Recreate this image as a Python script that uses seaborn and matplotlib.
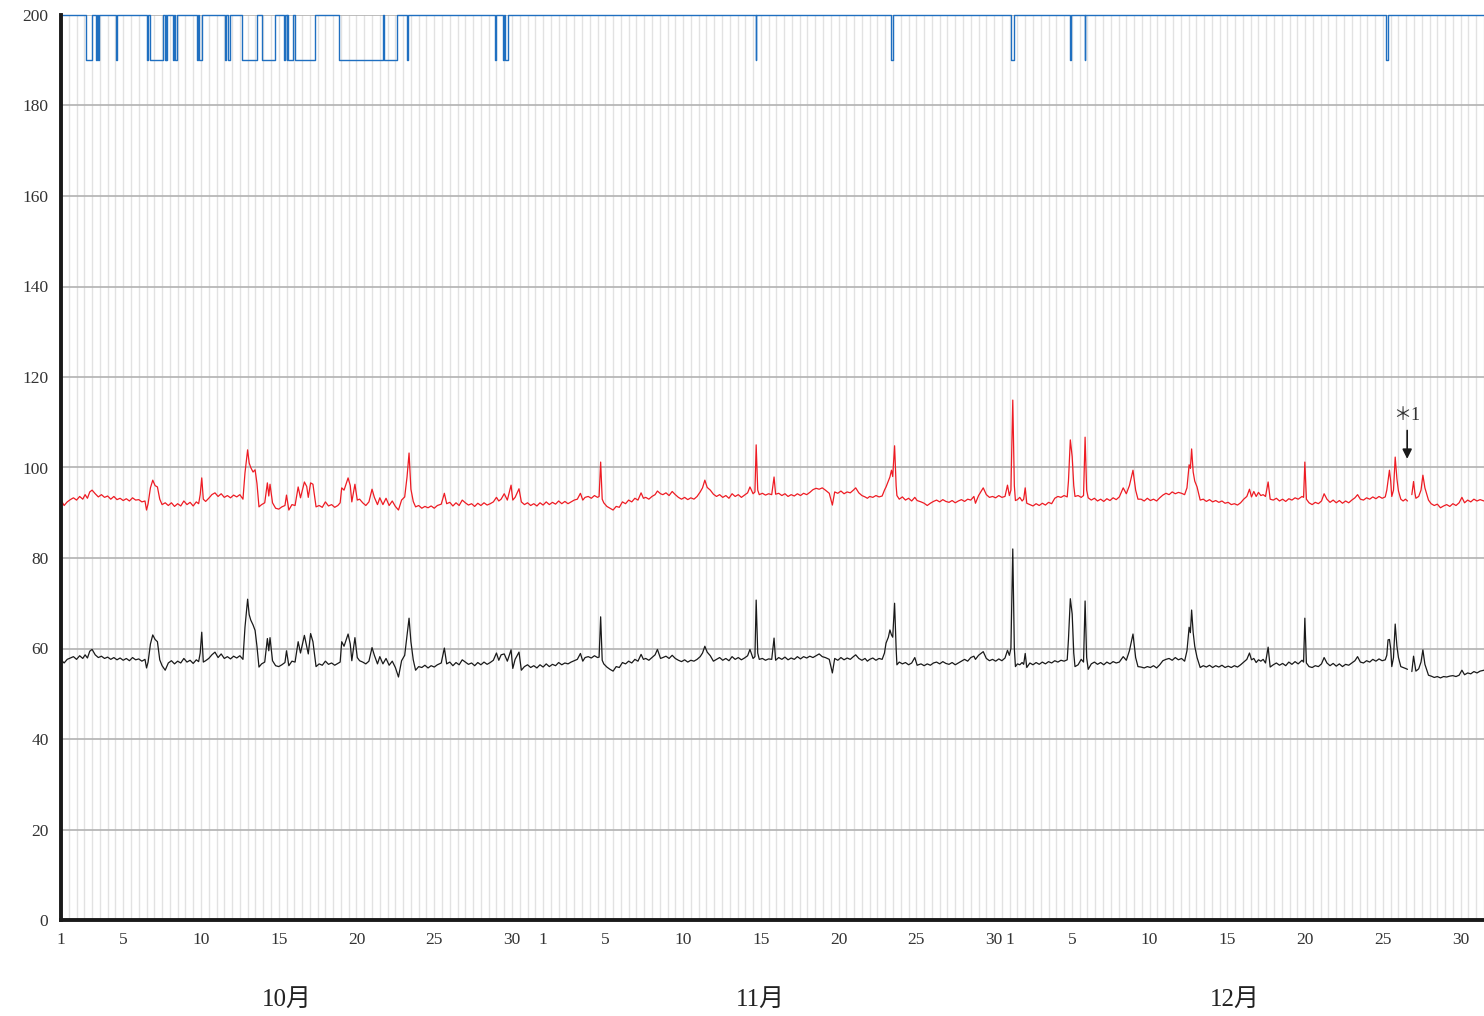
import numpy as np
import pandas as pd
import matplotlib
matplotlib.use('Agg')
import matplotlib.pyplot as plt
import matplotlib.transforms as mtransforms
from matplotlib.ticker import FixedLocator, MultipleLocator
import seaborn as sns

# days counted from 1 Oct (0.0 = Oct 1, 31 = Nov 1, 61 = Dec 1)
obs_days = [
    0.0, 0.2, 0.4, 0.6, 0.8, 1.0, 1.2, 1.4, 1.55, 1.7,
    1.85, 2.0, 2.2, 2.4, 2.6, 2.8, 3.0, 3.2, 3.4, 3.6,
    3.8, 4.0, 4.2, 4.4, 4.6, 4.8, 5.0, 5.2, 5.4, 5.5,
    5.6, 5.75, 5.9, 6.05, 6.2, 6.35, 6.5, 6.7, 6.9, 7.1,
    7.3, 7.5, 7.7, 7.9, 8.1, 8.3, 8.5, 8.7, 8.85, 8.95,
    9.05, 9.15, 9.3, 9.5, 9.7, 9.9, 10.1, 10.3, 10.5, 10.7,
    10.9, 11.1, 11.3, 11.5, 11.7, 11.83, 12.0, 12.1, 12.2, 12.35,
    12.48, 12.6, 12.73, 12.9, 13.1, 13.27, 13.36, 13.44, 13.6, 13.8,
    14.0, 14.2, 14.4, 14.5, 14.65, 14.85, 15.05, 15.25, 15.4, 15.65,
    15.8, 15.9, 16.05, 16.2, 16.4, 16.6, 16.8, 17.0, 17.2, 17.4,
    17.6, 17.8, 17.95, 18.05, 18.2, 18.46, 18.6, 18.7, 18.9, 19.05,
    19.2, 19.4, 19.6, 19.8, 20.0, 20.15, 20.35, 20.5, 20.7, 20.9,
    21.1, 21.3, 21.5, 21.7, 21.9, 22.1, 22.25, 22.38, 22.5, 22.65,
    22.8, 23.0, 23.2, 23.4, 23.6, 23.8, 24.0, 24.2, 24.45, 24.65,
    24.8, 25.0, 25.2, 25.4, 25.6, 25.8, 26.0, 26.2, 26.4, 26.6,
    26.8, 27.0, 27.2, 27.4, 27.6, 27.8, 28.0, 28.15, 28.3, 28.5,
    28.7, 28.94, 29.05, 29.2, 29.45, 29.6, 29.8, 30.0, 30.2, 30.4,
    30.6, 30.8, 31.0, 31.2, 31.4, 31.6, 31.8, 32.0, 32.2, 32.4,
    32.6, 32.8, 33.0, 33.2, 33.4, 33.55, 33.7, 33.9, 34.1, 34.3,
    34.5, 34.6, 34.7, 34.8, 34.9, 35.1, 35.3, 35.5, 35.7, 35.9,
    36.1, 36.3, 36.5, 36.7, 36.9, 37.1, 37.3, 37.45, 37.6, 37.8,
    38.0, 38.2, 38.35, 38.55, 38.7, 38.9, 39.1, 39.3, 39.5, 39.7,
    39.9, 40.1, 40.3, 40.5, 40.7, 40.9, 41.1, 41.25, 41.4, 41.55,
    41.75, 41.95, 42.15, 42.35, 42.55, 42.75, 42.95, 43.15, 43.35, 43.55,
    43.75, 43.95, 44.15, 44.3, 44.5, 44.62, 44.7, 44.8, 44.9, 45.1,
    45.3, 45.5, 45.7, 45.85, 45.95, 46.15, 46.35, 46.55, 46.75, 46.95,
    47.15, 47.35, 47.55, 47.75, 47.95, 48.15, 48.35, 48.55, 48.75, 48.95,
    49.15, 49.4, 49.6, 49.75, 49.95, 50.15, 50.35, 50.55, 50.75, 50.95,
    51.1, 51.3, 51.5, 51.7, 51.85, 52.0, 52.2, 52.4, 52.6, 52.8,
    52.95, 53.05, 53.2, 53.3, 53.4, 53.48, 53.6, 53.7, 53.75, 53.9,
    54.1, 54.3, 54.5, 54.7, 54.9, 55.05, 55.3, 55.5, 55.7, 55.9,
    56.1, 56.3, 56.5, 56.7, 56.9, 57.1, 57.3, 57.5, 57.7, 57.9,
    58.1, 58.3, 58.5, 58.7, 58.8, 59.0, 59.3, 59.5, 59.7, 59.9,
    60.1, 60.3, 60.5, 60.7, 60.86, 60.98, 61.08, 61.2, 61.3, 61.37,
    61.5, 61.65, 61.8, 61.9, 62.0, 62.1, 62.3, 62.5, 62.7, 62.9,
    63.1, 63.3, 63.5, 63.7, 63.9, 64.1, 64.3, 64.5, 64.7, 64.78,
    64.9, 65.02, 65.12, 65.2, 65.4, 65.6, 65.75, 65.85, 65.95, 66.05,
    66.25, 66.45, 66.65, 66.85, 67.05, 67.25, 67.45, 67.65, 67.85, 68.05,
    68.3, 68.5, 68.7, 68.93, 69.1, 69.25, 69.45, 69.65, 69.85, 70.05,
    70.25, 70.45, 70.65, 70.85, 71.05, 71.25, 71.45, 71.65, 71.85, 72.05,
    72.25, 72.4, 72.54, 72.62, 72.7, 72.8, 72.9, 73.05, 73.25, 73.45,
    73.65, 73.85, 74.05, 74.25, 74.45, 74.65, 74.85, 75.05, 75.25, 75.45,
    75.65, 75.85, 76.05, 76.25, 76.42, 76.55, 76.7, 76.85, 77.0, 77.15,
    77.3, 77.45, 77.62, 77.75, 77.95, 78.15, 78.35, 78.55, 78.75, 78.95,
    79.15, 79.35, 79.55, 79.8, 79.9, 79.98, 80.08, 80.25, 80.45, 80.65,
    80.85, 81.05, 81.22, 81.4, 81.6, 81.8, 82.0, 82.2, 82.4, 82.6,
    82.8, 83.0, 83.2, 83.37, 83.55, 83.75, 83.95, 84.15, 84.35, 84.55,
    84.75, 84.95, 85.15, 85.25, 85.33, 85.42, 85.5, 85.57, 85.68, 85.79,
    85.9, 86.0, 86.15, 86.3, 86.45, 86.58, 86.72, 86.86, 86.97, 87.05,
    87.12, 87.3, 87.45, 87.57, 87.7, 87.93, 88.1, 88.3, 88.5, 88.7,
    88.9, 89.1, 89.3, 89.5, 89.7, 89.9, 90.08, 90.25, 90.45, 90.65,
    90.85, 91.05, 91.25, 91.5,
]

nan = np.nan
red_vals = [
    92.8, 91.6, 92.4, 92.9, 93.3, 92.8, 93.6, 93.0, 94.0, 93.2,
    94.6, 95.0, 94.2, 93.5, 94.0, 93.4, 93.7, 93.0, 93.6, 92.9,
    93.2, 92.7, 93.1, 92.6, 93.3, 92.8, 92.9, 92.4, 92.6, 90.6,
    92.0, 95.5, 97.2, 96.0, 95.7, 93.0, 91.8, 92.2, 91.6, 92.2,
    91.4, 92.0, 91.5, 92.6, 91.8, 92.3, 91.5, 92.4, 92.0, 94.0,
    97.7, 93.0, 92.5, 93.2, 94.0, 94.4, 93.6, 94.2, 93.4, 93.8,
    93.3, 93.9, 93.5, 94.0, 93.0, 98.8, 103.9, 101.0, 100.0, 99.0,
    99.5, 96.5, 91.3, 91.8, 92.2, 96.6, 93.7, 96.3, 92.2, 91.0,
    90.8, 91.3, 91.6, 93.9, 90.6, 91.8, 91.6, 95.7, 93.3, 96.8,
    95.8, 93.4, 96.6, 96.3, 91.3, 91.6, 91.2, 92.4, 91.5, 91.8,
    91.2, 91.6, 92.2, 95.5, 95.0, 97.7, 96.0, 92.4, 96.3, 92.8,
    93.0, 92.2, 91.6, 92.4, 95.2, 93.4, 91.8, 93.3, 91.8, 93.2,
    91.6, 92.6, 91.4, 90.6, 92.8, 93.5, 97.9, 103.2, 95.2, 92.5,
    91.3, 91.6, 91.0, 91.4, 91.1, 91.5, 91.0, 91.6, 91.9, 94.3,
    92.0, 92.3, 91.5, 92.2, 91.6, 92.8, 92.2, 91.7, 92.0, 91.4,
    92.1, 91.6, 92.2, 91.7, 92.0, 92.4, 93.4, 92.6, 93.0, 94.2,
    92.8, 96.1, 92.8, 93.4, 95.3, 92.4, 91.8, 92.2, 91.6, 92.0,
    91.5, 92.2, 91.7, 92.4, 91.8, 92.3, 91.9, 92.6, 92.0, 92.5,
    92.0, 92.4, 92.8, 93.0, 94.3, 92.8, 93.4, 93.6, 93.2, 93.8,
    93.4, 93.6, 101.2, 93.0, 92.2, 91.4, 91.0, 90.6, 91.4, 91.2,
    92.4, 92.0, 92.8, 92.4, 93.2, 92.8, 94.4, 93.2, 93.4, 93.0,
    93.6, 94.0, 94.8, 94.2, 94.0, 94.4, 93.8, 94.7, 94.0, 93.4,
    93.0, 93.4, 92.9, 93.3, 93.0, 93.6, 94.6, 95.5, 97.2, 95.6,
    95.0, 94.1, 93.6, 94.0, 93.4, 93.8, 93.2, 94.2, 93.6, 94.0,
    93.4, 93.9, 94.4, 95.7, 94.2, 94.6, 105.0, 95.0, 94.0, 94.3,
    93.9, 94.2, 94.0, 97.9, 94.1, 94.3, 93.8, 94.2, 93.6, 94.0,
    93.7, 94.2, 93.8, 94.3, 94.0, 94.5, 95.1, 95.4, 95.2, 95.5,
    95.0, 94.3, 91.7, 94.6, 94.3, 94.8, 94.2, 94.6, 94.4, 95.0,
    95.5, 94.4, 93.8, 93.5, 93.2, 93.6, 93.4, 93.8, 93.5, 93.7,
    95.0, 95.7, 97.0, 97.9, 99.4, 98.0, 104.8, 96.0, 93.8, 93.0,
    93.5, 92.8, 93.2, 92.6, 93.4, 92.7, 92.4, 92.1, 91.6, 92.1,
    92.5, 92.8, 92.4, 92.9, 92.5, 92.3, 92.7, 92.2, 92.6, 92.9,
    92.5, 93.0, 92.8, 93.6, 92.1, 93.8, 95.5, 94.0, 93.4, 93.6,
    93.3, 93.8, 93.4, 93.6, 96.1, 93.8, 95.0, 114.9, 96.0, 92.7,
    92.9, 93.4, 92.6, 93.0, 95.5, 92.1, 91.8, 91.5, 92.0, 91.6,
    92.1, 91.7, 92.3, 92.0, 93.2, 93.6, 93.4, 93.8, 93.5, 97.0,
    106.1, 102.4, 96.0, 93.6, 93.8, 93.4, 93.8, 106.7, 95.0, 93.3,
    92.8, 93.2, 92.6, 93.0, 92.5, 93.1, 92.7, 93.3, 92.9, 93.5,
    95.5, 94.2, 96.0, 99.4, 95.0, 93.0, 93.0, 92.6, 93.2, 92.7,
    93.0, 92.6, 93.3, 93.9, 94.3, 94.0, 94.6, 94.2, 94.5, 94.3,
    94.0, 95.5, 100.6, 99.8, 104.1, 99.0, 97.0, 95.7, 92.8, 93.0,
    92.5, 92.9, 92.4, 92.7, 92.3, 92.6, 92.1, 92.3, 91.8, 92.0,
    91.7, 92.2, 93.0, 93.6, 95.2, 93.5, 94.7, 93.6, 94.5, 93.8,
    94.0, 93.6, 96.8, 93.0, 92.8, 93.2, 92.6, 93.0, 92.5, 93.1,
    92.8, 93.3, 93.0, 93.6, 93.4, 101.2, 93.0, 92.2, 91.8, 92.3,
    92.0, 92.6, 94.2, 93.0, 92.3, 92.8, 92.2, 92.7, 92.1, 92.6,
    92.2, 92.8, 93.3, 94.0, 93.0, 92.8, 93.3, 93.0, 93.5, 93.1,
    93.6, 93.2, 93.5, 95.0, 97.1, 99.4, 97.0, 93.6, 95.0, 102.3,
    97.5, 94.8, 93.0, 92.6, 93.0, 92.6, nan, 94.0, 96.9, 94.5,
    93.2, 93.6, 95.0, 98.3, 95.5, 92.8, 92.0, 91.6, 91.9, 91.1,
    91.5, 91.8, 91.4, 92.0, 91.6, 92.2, 93.4, 92.2, 92.8, 92.4,
    93.0, 92.6, 92.9, 92.6,
]

black_vals = [
    57.5, 56.8, 57.6, 57.9, 58.2, 57.6, 58.4, 57.8, 58.6, 57.9,
    59.4, 59.8, 58.6, 58.0, 58.3, 57.8, 58.1, 57.6, 58.0, 57.5,
    57.9, 57.4, 57.8, 57.3, 58.0, 57.5, 57.7, 57.2, 57.6, 55.7,
    57.0, 61.0, 63.0, 62.0, 61.5, 57.5, 56.2, 55.2, 56.8, 57.3,
    56.6, 57.2, 56.8, 57.8, 57.0, 57.4, 56.7, 57.5, 57.1, 59.0,
    63.6, 57.0, 57.3, 57.8, 58.6, 59.2, 58.0, 58.8, 57.8, 58.2,
    57.7, 58.3, 57.9, 58.4, 57.6, 64.7, 70.9, 67.5, 66.3, 65.2,
    64.0, 60.5, 55.9, 56.6, 57.0, 62.2, 59.5, 62.4, 57.3, 56.2,
    56.0, 56.4, 56.9, 59.5, 56.2, 57.2, 57.0, 61.5, 59.0, 62.9,
    60.5, 58.8, 63.3, 61.5, 56.0, 56.6, 56.3, 57.2, 56.5, 56.8,
    56.3, 56.7, 57.0, 61.5, 60.5, 63.2, 61.0, 57.3, 62.4, 58.0,
    57.3, 57.0, 56.6, 57.2, 60.2, 58.5, 56.6, 58.2, 56.6, 57.8,
    56.3, 57.2, 55.8, 53.7, 57.3, 58.5, 63.0, 66.7, 61.5, 57.5,
    55.2, 56.0, 55.8, 56.3, 55.7, 56.2, 55.9, 56.4, 56.8, 60.1,
    56.6, 57.0, 56.2, 56.9, 56.4, 57.5, 57.0, 56.5, 56.8, 56.2,
    56.9, 56.4, 57.0, 56.5, 56.9, 57.4, 59.0, 57.4, 58.6, 58.8,
    57.2, 59.7, 55.6, 57.6, 59.2, 55.2, 56.0, 56.4, 55.8, 56.2,
    55.7, 56.4, 55.9, 56.6, 56.0, 56.5, 56.2, 56.9, 56.4, 56.8,
    56.6, 57.0, 57.3, 57.6, 58.9, 57.2, 58.0, 58.2, 57.9, 58.4,
    58.0, 58.1, 67.0, 57.4, 56.6, 55.9, 55.4, 55.0, 56.0, 55.8,
    56.9, 56.6, 57.2, 56.8, 57.6, 57.2, 58.7, 57.6, 57.8, 57.4,
    58.0, 58.6, 59.8, 57.8, 58.0, 58.3, 57.8, 58.5, 57.8, 57.4,
    57.1, 57.5, 57.0, 57.4, 57.2, 57.6, 58.2, 59.0, 60.5, 59.2,
    58.4, 57.2, 57.6, 58.0, 57.4, 57.8, 57.3, 58.2, 57.6, 58.0,
    57.5, 57.9, 58.4, 59.8, 57.8, 58.2, 70.7, 59.0, 57.6, 57.8,
    57.4, 57.7, 57.6, 62.3, 57.4, 58.0, 57.6, 58.1, 57.5, 57.9,
    57.6, 58.2, 57.7, 58.2, 57.9, 58.3, 58.0, 58.4, 58.8, 58.2,
    58.0, 57.6, 54.6, 57.8, 57.4, 58.0, 57.5, 57.9, 57.6, 58.2,
    58.6, 57.8, 57.4, 57.8, 57.2, 57.6, 57.9, 57.4, 57.8, 57.6,
    59.0, 61.2, 62.5, 64.1, 63.0, 62.5, 70.0, 60.0, 56.4, 57.0,
    56.6, 56.9, 56.4, 56.8, 58.0, 56.3, 56.6, 56.2, 56.6, 56.3,
    56.8, 57.0, 56.6, 57.1, 56.7, 56.5, 56.9, 56.4, 56.8, 57.2,
    57.6, 57.2, 58.0, 58.3, 57.6, 58.5, 59.3, 57.8, 57.3, 57.6,
    57.2, 57.7, 57.3, 57.9, 59.6, 58.5, 60.0, 82.0, 60.0, 56.0,
    56.6, 56.4, 56.9, 56.5, 58.9, 55.8, 56.8, 56.4, 56.9, 56.5,
    57.0, 56.6, 57.1, 56.8, 57.3, 57.0, 57.4, 57.2, 57.5, 62.0,
    71.0, 67.6, 59.0, 56.0, 56.4, 57.6, 57.0, 70.5, 58.0, 55.4,
    56.6, 57.0, 56.5, 56.9, 56.4, 57.0, 56.6, 57.1, 56.8, 57.0,
    58.2, 57.4, 59.5, 63.2, 58.0, 56.0, 55.9, 55.7, 56.0, 55.8,
    56.2, 55.7, 56.4, 57.3, 57.6, 57.8, 57.4, 58.0, 57.5, 57.8,
    57.2, 59.5, 64.7, 63.5, 68.5, 63.5, 60.5, 58.0, 55.8, 56.2,
    55.9, 56.3, 55.8, 56.2, 55.9, 56.3, 55.8, 56.1, 55.8, 56.2,
    55.9, 56.4, 57.0, 57.6, 59.0, 57.5, 57.8, 56.9, 57.5, 57.2,
    57.6, 56.8, 60.3, 55.9, 56.4, 56.8, 56.3, 56.7, 56.2, 57.0,
    56.5, 57.1, 56.6, 57.4, 57.0, 66.7, 56.8, 56.0, 55.8, 56.2,
    56.0, 56.6, 58.0, 56.8, 56.2, 56.7, 56.1, 56.6, 56.0, 56.5,
    56.3, 56.8, 57.3, 58.2, 57.0, 56.8, 57.3, 57.0, 57.6, 57.2,
    57.7, 57.3, 57.5, 58.5, 61.9, 62.0, 60.0, 56.0, 58.0, 65.4,
    60.5, 58.0, 56.0, 55.8, 55.6, 55.4, nan, 54.9, 58.3, 56.5,
    55.0, 55.5, 57.0, 59.7, 56.5, 54.1, 53.9, 53.6, 53.8, 53.5,
    53.8, 53.7, 53.9, 54.0, 53.8, 54.1, 55.2, 54.2, 54.6, 54.4,
    54.9, 54.6, 55.0, 55.2,
]

# intervals (day from, day to) where the blue trace drops from 200 to 190
blue_dips = [
    (1.61, 1.97), (2.23, 2.29), (2.36, 2.42), (3.55, 3.58), (5.51, 5.57),
    (5.72, 6.54), (6.69, 6.72), (6.77, 6.80), (7.22, 7.25), (7.31, 7.44),
    (8.77, 8.82), (8.90, 9.05), (10.55, 10.62), (10.75, 10.87), (11.66, 12.63),
    (12.95, 13.76), (14.34, 14.40), (14.50, 14.56), (14.62, 14.94), (15.05, 16.31),
    (17.90, 20.69), (20.77, 21.63), (22.27, 22.33), (27.88, 27.95), (28.42, 28.48),
    (28.55, 28.75), (44.68, 44.72), (53.40, 53.50), (61.10, 61.30), (64.88, 64.92),
    (65.83, 65.87), (85.20, 85.35),
]

month_names = ['10月', '11月', '12月']
month_lengths = [31, 30, 31]
labelled_days = [1, 5, 10, 15, 20, 25, 30]
y_ticks = list(range(0, 201, 20))

sns.set_style('white')
plt.rcParams['font.family'] = ['Liberation Serif', 'Noto Sans CJK JP']

fig = plt.figure(figsize=(14.84, 10.16), dpi=100)
ax = fig.add_axes([61 / 1484, 96 / 1016, 1 - 61 / 1484, 905 / 1016])

df = pd.DataFrame({'day': obs_days, 'red': red_vals, 'black': black_vals})
df['seg'] = df['red'].isna().cumsum()
df = df.dropna()

bx, by = [0.0], [200.0]
for a, b in blue_dips:
    bx += [a, a, b, b]
    by += [200, 190, 190, 200]
bx.append(91.5)
by.append(200.0)
blue = pd.DataFrame({'day': bx, 'val': by})

sns.lineplot(data=df, x='day', y='red', units='seg', estimator=None, sort=False,
             color='#ee1c24', lw=0.9, ax=ax)
sns.lineplot(data=df, x='day', y='black', units='seg', estimator=None, sort=False,
             color='#1a1a1a', lw=0.9, ax=ax)
sns.lineplot(data=blue, x='day', y='val', estimator=None, sort=False,
             color='#1f6fc0', lw=1.0, ax=ax)
ax.lines[-1].set_clip_on(False)

ax.set_xlim(0, 91.5)
ax.set_ylim(0, 200)
ax.set_xlabel('')
ax.set_ylabel('')

# day ticks, with labels only on a few days of each month
pos, labs = [], []
start = 0
for n in month_lengths:
    for d in range(1, n + 1):
        pos.append(start + d - 1)
        labs.append(str(d) if d in labelled_days else '')
    start += n
ax.xaxis.set_major_locator(FixedLocator(pos))
ax.set_xticklabels(labs)
ax.xaxis.set_minor_locator(MultipleLocator(0.5))
ax.set_yticks(y_ticks)

ax.set_axisbelow(True)
ax.grid(axis='x', which='both', color='#e2e2e2', lw=1.0)
ax.grid(axis='y', which='major', color='#b2b2b2', lw=1.2)

for s in ['top', 'right']:
    ax.spines[s].set_visible(False)
for s in ['left', 'bottom']:
    ax.spines[s].set_linewidth(2.8)
    ax.spines[s].set_color('#1a1a1a')

ax.tick_params(axis='x', which='major', direction='out', length=4, width=2.5,
               color='#1a1a1a', labelsize=12.5, pad=5, labelcolor='#333333')
ax.tick_params(axis='x', which='minor', length=0)
ax.tick_params(axis='y', direction='out', length=6, width=1.2, color='#1a1a1a',
               labelsize=12.5, pad=3, labelcolor='#333333')

# month names under the day labels
trans = mtransforms.blended_transform_factory(ax.transData, ax.transAxes)
start = 0
for name, n in zip(month_names, month_lengths):
    ax.text(start + n / 2 - 1, -0.088, name, transform=trans, ha='center',
            va='center', fontsize=18, color='#222222')
    start += n

# note *1 with arrow at the data gap
ax.annotate('', xy=(86.56, 101.3), xytext=(86.56, 108.8),
            arrowprops=dict(arrowstyle='-|>', color='#1a1a1a', lw=1.2,
                            mutation_scale=14))
ax.text(86.56, 111.6, '＊1', ha='center', va='center', fontsize=13,
        color='#333333')

fig.savefig('out.png', dpi=100)
